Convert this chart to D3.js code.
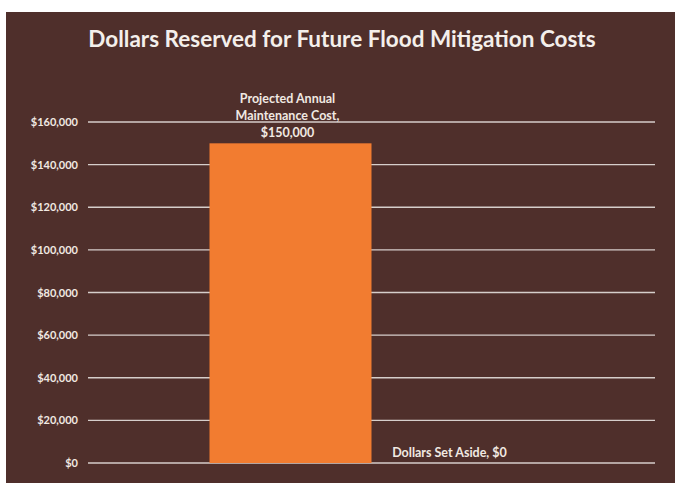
<!DOCTYPE html>
<html>
<head>
<meta charset="utf-8">
<script src="https://cdn.jsdelivr.net/npm/d3@7"></script>
<style>
  html, body { margin: 0; padding: 0; background: #ffffff; }
  svg { display: block; }
  text { font-family: Lato, "Open Sans", sans-serif; }
</style>
</head>
<body>
<div id="chart"></div>
<script>
// Chart data
const categories = ["Flood Mitigation"];
const seriesNames = ["Projected Annual Maintenance Cost", "Dollars Set Aside"];
const seriesValues = [150000, 0];
const seriesLabelLines = [
  ["Projected Annual", "Maintenance Cost,", "$150,000"],
  ["Dollars Set Aside, $0"]
];
const tickValues = [0, 20000, 40000, 60000, 80000, 100000, 120000, 140000, 160000];

const W = 675, H = 485;
const bg = "#4f2f2b";
const textColor = "#f1e9e2";
const gridColor = "#d6cecb";
const barColor = "#f27c30";

const svg = d3.select("#chart").append("svg")
  .attr("width", W).attr("height", H);

// page background and chart panel
svg.append("rect").attr("x", 0).attr("y", 0).attr("width", W).attr("height", H).attr("fill", "#ffffff");
svg.append("rect").attr("x", 6).attr("y", 12).attr("width", W - 6).attr("height", 471).attr("fill", bg);

// title
svg.append("text")
  .attr("x", 342).attr("y", 47)
  .attr("text-anchor", "middle")
  .attr("fill", "#f4efeb")
  .attr("font-size", 22.5)
  .attr("font-weight", 700)
  .text("Dollars Reserved for Future Flood Mitigation Costs");

const plot = { left: 88, right: 655, top: 122, bottom: 463 };

const y = d3.scaleLinear().domain([0, 160000]).range([plot.bottom, plot.top]);

// one category, two side-by-side series, 150% gap between clusters
const x0 = d3.scaleBand().domain(categories)
  .range([plot.left, plot.right])
  .paddingInner(1.5 / 3.5)
  .paddingOuter(0.75 / 3.5);
const x1 = d3.scaleBand().domain(seriesNames).range([0, x0.bandwidth()]);

// gridlines
svg.append("g").selectAll("line").data(tickValues).join("line")
  .attr("x1", plot.left).attr("x2", plot.right)
  .attr("y1", d => y(d)).attr("y2", d => y(d))
  .attr("stroke", gridColor).attr("stroke-width", 1.4);

// y axis labels
const fmt = d => "$" + d3.format(",")(d);
const yAxis = d3.axisLeft(y).tickValues(tickValues).tickFormat(fmt).tickSize(0).tickPadding(10);
const gy = svg.append("g").attr("transform", `translate(${plot.left},0)`).call(yAxis);
gy.select(".domain").remove();
gy.selectAll("text")
  .attr("fill", textColor)
  .attr("font-size", 11)
  .attr("font-weight", 700)
  .style("font-family", "Lato, 'Open Sans', sans-serif");

const data = seriesNames.map((s, i) => ({ series: s, value: seriesValues[i], lines: seriesLabelLines[i] }));

const groups = svg.append("g").selectAll("g").data(categories).join("g")
  .attr("transform", d => `translate(${x0(d)},0)`);

groups.selectAll("rect").data(data).join("rect")
  .attr("x", d => x1(d.series))
  .attr("width", x1.bandwidth())
  .attr("y", d => y(d.value))
  .attr("height", d => y(0) - y(d.value))
  .attr("fill", barColor);

// data labels above each bar
const lineH = 17;
groups.selectAll("text.lbl").data(data).join("text")
  .attr("class", "lbl")
  .attr("text-anchor", "middle")
  .attr("fill", textColor)
  .attr("font-size", 12.5)
  .attr("font-weight", 700)
  .each(function(d) {
    const t = d3.select(this);
    const cx = x1(d.series) + x1.bandwidth() / 2 - 3;
    const n = d.lines.length;
    d.lines.forEach((ln, k) => {
      t.append("tspan")
        .attr("x", cx)
        .attr("y", y(d.value) - 6 - (n - 1 - k) * lineH)
        .text(ln);
    });
  });
</script>
</body>
</html>
